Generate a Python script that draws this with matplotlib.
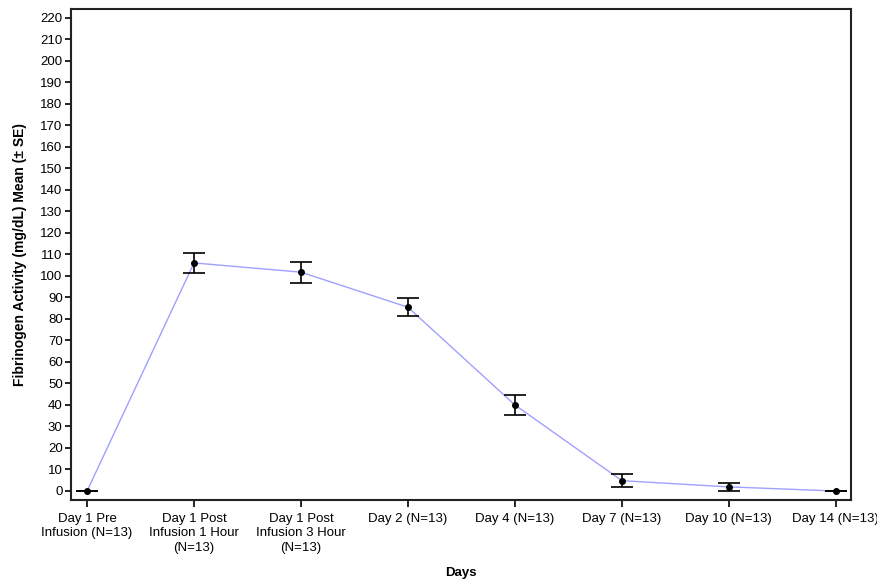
import numpy as np
import matplotlib.pyplot as plt

plt.rcParams['font.family'] = ['Liberation Sans', 'DejaVu Sans']

# Fibrinogen activity by visit: mean and standard error
visits = ["Day 1 Pre\nInfusion (N=13)",
          "Day 1 Post\nInfusion 1 Hour\n(N=13)",
          "Day 1 Post\nInfusion 3 Hour\n(N=13)",
          "Day 2 (N=13)", "Day 4 (N=13)", "Day 7 (N=13)",
          "Day 10 (N=13)", "Day 14 (N=13)"]
mean_act = [0.0, 106.0, 101.7, 85.4, 40.0, 4.8, 1.9, 0.0]
se_act = [0.0, 4.5, 4.9, 4.1, 4.6, 3.0, 2.0, 0.0]

fig = plt.figure(figsize=(8.78, 5.79), dpi=100)
ax = fig.add_axes([0.0809, 0.1364, 0.888, 0.848])

x = np.arange(len(visits))
ax.plot(x, mean_act, color='#a0a0ff', linewidth=1.0, zorder=1)
ax.errorbar(x, mean_act, yerr=se_act, fmt='o', color='black', markersize=4,
            ecolor='black', elinewidth=1.2, capsize=8, capthick=1.2, zorder=2)

ax.set_xlim(-0.15, 7.14)
ax.set_ylim(-4.2, 224)
ax.set_yticks(np.arange(0, 221, 10))
ax.set_xticks(x)
ax.set_xticklabels(visits, fontsize=9.5, linespacing=1.3)
ax.tick_params(axis='y', labelsize=9.5, direction='out', length=4, width=1.2, pad=2)
ax.tick_params(axis='x', direction='out', length=5, width=1.2, pad=4)
for s in ax.spines.values():
    s.set_linewidth(1.5)
    s.set_color('#222222')

ax.set_ylabel("Fibrinogen Activity (mg/dL) Mean (± SE)", fontsize=10,
              fontweight='bold')
ax.yaxis.set_label_coords(-0.056, 0.5)
ax.set_xlabel("Days", fontsize=9.5, fontweight='bold', va='center')
ax.xaxis.set_label_coords(0.5, -0.148)

fig.savefig('out.png', dpi=100)
